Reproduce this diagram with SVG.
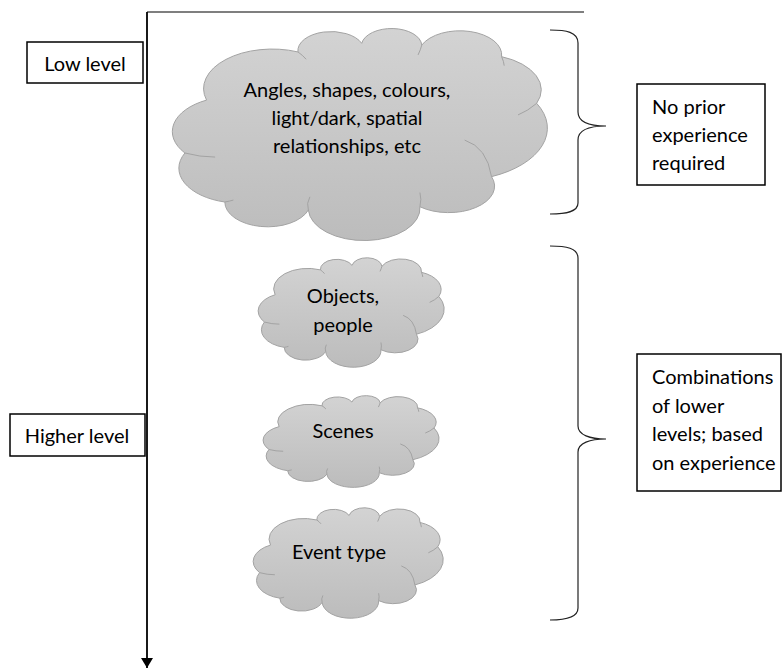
<svg xmlns="http://www.w3.org/2000/svg" xmlns:xlink="http://www.w3.org/1999/xlink" width="782" height="668" viewBox="0 0 782 668">
<style>
  .lbl { font-family: "Lato", "Liberation Sans", sans-serif; font-size: 20px; fill: #000; }
  .box { fill: #fff; stroke: #000; stroke-width: 1.5; }
  .cloud { fill: url(#cg); stroke: #a3a3a3; stroke-width: 1; vector-effect: non-scaling-stroke; }
  .tail { fill: none; stroke: #a3a3a3; stroke-width: 1; vector-effect: non-scaling-stroke; }
  .brace { fill: none; stroke: #222; stroke-width: 1.2; }
</style>
<defs>
  <linearGradient id="cg" x1="0" y1="0" x2="0" y2="1">
    <stop offset="0" stop-color="#d3d3d3"/>
    <stop offset="1" stop-color="#bcbcbc"/>
  </linearGradient>
  <marker id="arrow" viewBox="0 0 10 12" refX="10" refY="6" markerWidth="10" markerHeight="12" markerUnits="userSpaceOnUse" orient="auto">
    <path d="M0,0 L10,6 L0,12 Z" fill="#000"/>
  </marker>
  <g id="cloudshape">
    <path class="cloud" d="M9.8,34 A18.4,18.4 0 0 1 34.3,11.6 A8.9,8.9 0 0 1 51.4,7.6 A8.1,8.1 0 0 1 67.5,8.4 A11.2,11.2 0 0 1 88.9,13.8 A16.5,16.5 0 0 1 98.3,35.5 A24.5,24.5 0 0 1 86.2,69.6 A12.3,12.3 0 0 1 67,83.6 A14,14 0 0 1 37.1,85.1 A11.5,11.5 0 0 1 14.7,81.4 A16.2,16.2 0 0 1 4,58.6 A16.3,16.3 0 0 1 9.8,34 Z"/>
    <path class="tail" d="M4,58.6 Q8,60.5 12.1,60.5 M86.2,69.6 Q85,56 79,52.6 M98.3,35.5 Q96,39 93.3,40.9 M67,83.6 Q67.5,80 67,77 M88.9,13.8 Q89.5,16 89.6,18 M34.3,11.6 Q35.5,13 36.5,15 M67.5,8.4 Q67.2,10.5 66.5,13 M37.1,85.1 Q36.5,82 37.5,79 M14.7,81.4 Q16,81 17,80.5"/>
  </g>
</defs>
<rect width="782" height="668" fill="#fff"/>

<g id="connectors">
  <line x1="147" y1="12" x2="584" y2="12" stroke="#000" stroke-width="1.2"/>
  <line x1="147" y1="12" x2="147" y2="668" stroke="#000" stroke-width="1.8" marker-end="url(#arrow)"/>
  <path class="brace" d="M550,30 C566,30 578,32 578,43 L578,112 C578,122 590,126 606,126 C590,126 578,130 578,140 L578,203 C578,212 566,214 550,214"/>
  <path class="brace" d="M550,246 C566,246 578,248 578,258 L578,426 C578,435 590,439 606,439 C590,439 578,443 578,452 L578,608 C578,617 566,620 550,620"/>
</g>

<g id="low-level">
  <rect class="box" x="27" y="42" width="116" height="41"/>
  <text class="lbl" x="85" y="71" text-anchor="middle">Low level</text>
</g>
<g id="higher-level">
  <rect class="box" x="10" y="414" width="135" height="42"/>
  <text class="lbl" x="77" y="443" text-anchor="middle">Higher level</text>
</g>

<g id="cloud-basic">
  <use xlink:href="#cloudshape" href="#cloudshape" transform="translate(170,27) scale(3.73,2.15)"/>
  <text class="lbl" text-anchor="middle"><tspan x="347" y="97">Angles, shapes, colours,</tspan><tspan x="347" y="125">light/dark, spatial</tspan><tspan x="347" y="153">relationships, etc</tspan></text>
</g>
<g id="cloud-objects">
  <use xlink:href="#cloudshape" href="#cloudshape" transform="translate(257,257) scale(1.85,1.11)"/>
  <text class="lbl" text-anchor="middle"><tspan x="343" y="303">Objects,</tspan><tspan x="343" y="332">people</tspan></text>
</g>
<g id="cloud-scenes">
  <use xlink:href="#cloudshape" href="#cloudshape" transform="translate(262,395) scale(1.75,0.93)"/>
  <text class="lbl" x="343" y="438" text-anchor="middle">Scenes</text>
</g>
<g id="cloud-event">
  <use xlink:href="#cloudshape" href="#cloudshape" transform="translate(252,507) scale(1.89,1.12)"/>
  <text class="lbl" x="339" y="559" text-anchor="middle">Event type</text>
</g>

<g id="no-prior">
  <rect class="box" x="637" y="84" width="128" height="101"/>
  <text class="lbl"><tspan x="652" y="114">No prior</tspan><tspan x="652" y="142">experience</tspan><tspan x="652" y="170">required</tspan></text>
</g>
<g id="combinations">
  <rect class="box" x="637" y="354" width="144" height="137"/>
  <text class="lbl"><tspan x="652" y="384">Combinations</tspan><tspan x="652" y="413">of lower</tspan><tspan x="652" y="441">levels; based</tspan><tspan x="652" y="470">on experience</tspan></text>
</g>
</svg>
